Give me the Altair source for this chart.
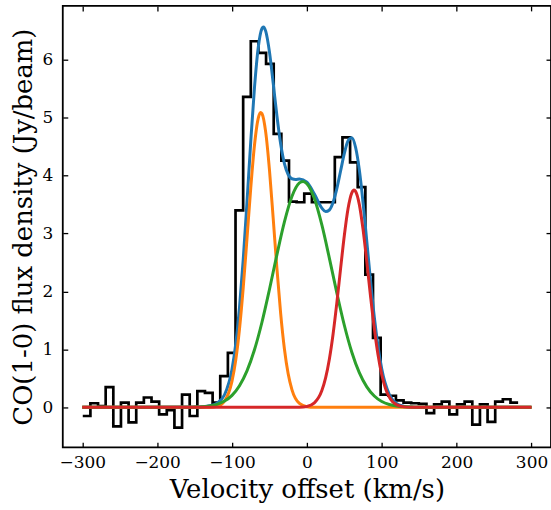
import altair as alt
import pandas as pd

# ---- data ----
# channel edges (km/s) of the observed spectrum
edges = [-299.3, -289.1, -278.9, -268.7, -258.5, -248.3, -238.1, -227.9, -217.7, -207.5,
         -197.3, -187.1, -176.9, -166.7, -156.5, -146.3, -136.1, -125.9, -115.7, -105.5,
         -95.3, -85.1, -74.9, -64.7, -54.5, -44.3, -34.1, -23.9, -13.7, -3.5,
         6.7, 16.9, 27.1, 37.3, 47.5, 57.7, 67.9, 78.1, 88.3, 98.5,
         108.7, 118.9, 129.1, 139.3, 149.5, 159.7, 169.9, 180.1, 190.3, 200.5,
         210.7, 220.9, 231.1, 241.3, 251.5, 261.7, 271.9, 282.1]
# flux density per channel (Jy/beam)
flux = [-0.15, 0.07, 0.02, 0.35, -0.33, 0.08, -0.26, 0.08, 0.17, 0.10,
        -0.12, -0.05, -0.35, 0.22, -0.15, 0.28, 0.25, 0.08, 0.54, 0.94,
        3.40, 5.36, 6.32, 6.12, 5.93, 4.72, 4.26, 3.55, 3.54, 3.69,
        3.54, 3.54, 3.54, 4.32, 4.66, 4.23, 3.80, 2.29, 1.20, 0.22,
        0.20, 0.12, 0.08, 0.07, 0.06, -0.10, 0.05, 0.10, -0.12, 0.05,
        0.10, -0.30, 0.05, -0.25, 0.10, 0.14, 0.08]

# total fit (blue)
total_v = [-300, -150, -140, -130, -120, -110, -100, -95, -90, -85, -80, -75, -70, -65, -60, -58,
           -55, -50, -45, -40, -35, -30, -25, -20, -15, -10, 0, 10, 20, 25, 30, 35, 40, 45,
           50, 55, 60, 65, 70, 75, 80, 85, 90, 100, 110, 120, 130, 140, 150, 300]
total_f = [0, 0.004, 0.010, 0.026, 0.071, 0.217, 0.659, 1.095, 1.724, 2.554, 3.540, 4.577, 5.517,
           6.207, 6.540, 6.565, 6.494, 6.136, 5.599, 5.030, 4.547, 4.209, 4.020, 3.946, 3.935,
           3.943, 3.887, 3.682, 3.439, 3.380, 3.407, 3.541, 3.777, 4.080, 4.384, 4.603, 4.655,
           4.490, 4.103, 3.535, 2.866, 2.182, 1.561, 0.663, 0.225, 0.064, 0.017, 0.004, 0, 0]

# component 1 (orange)
comp1_v = [-300, -140, -130, -120, -110, -100, -95, -90, -85, -80, -75, -70, -65, -62, -60, -55,
           -50, -45, -40, -35, -30, -25, -20, -10, 0, 10, 20, 300]
comp1_f = [0, 0, 0.002, 0.019, 0.109, 0.452, 0.815, 1.351, 2.066, 2.911, 3.780, 4.524, 4.989,
           5.090, 5.071, 4.751, 4.102, 3.264, 2.393, 1.617, 1.007, 0.578, 0.306, 0.067, 0.011,
           0.001, 0, 0]

# component 2 (green)
comp2_v = [-300, -160, -150, -140, -130, -120, -110, -100, -90, -80, -70, -60, -50, -40, -30,
           -20, -10, -5, 0, 10, 20, 30, 40, 50, 60, 70, 80, 90, 100, 110, 120, 130, 140, 150, 300]
comp2_f = [0, 0, 0.004, 0.010, 0.024, 0.052, 0.108, 0.207, 0.373, 0.629, 0.993, 1.469, 2.034,
           2.637, 3.202, 3.640, 3.874, 3.900, 3.861, 3.604, 3.149, 2.577, 1.975, 1.417, 0.952,
           0.599, 0.353, 0.195, 0.100, 0.049, 0.022, 0.009, 0.004, 0, 0]

# component 3 (red)
comp3_v = [-300, -20, -10, 0, 10, 20, 25, 30, 35, 40, 45, 50, 55, 60, 63, 65, 70, 75, 80, 85,
           90, 95, 100, 105, 110, 120, 130, 140, 300]
comp3_f = [0, 0, 0.002, 0.015, 0.077, 0.290, 0.507, 0.830, 1.266, 1.802, 2.394, 2.967, 3.432,
           3.703, 3.750, 3.729, 3.504, 3.072, 2.513, 1.918, 1.366, 0.908, 0.563, 0.326, 0.176,
           0.042, 0.008, 0, 0]

x_ticks = [-300, -200, -100, 0, 100, 200, 300]
y_ticks = [0, 1, 2, 3, 4, 5, 6]

# ---- tables ----
hist_df = pd.DataFrame({"v": edges, "f": flux + [flux[-1]]})
total_df = pd.DataFrame({"v": total_v, "f": total_f})
c1_df = pd.DataFrame({"v": comp1_v, "f": comp1_f})
c2_df = pd.DataFrame({"v": comp2_v, "f": comp2_f})
c3_df = pd.DataFrame({"v": comp3_v, "f": comp3_f})

FONT = "DejaVu Serif"
xs = alt.Scale(domain=[-326, 326], nice=False, zero=False)
ys = alt.Scale(domain=[-0.69, 6.93], nice=False, zero=False)

axis_style = dict(domain=False, grid=False, tickColor="black", tickWidth=1.3, tickSize=5,
                  offset=-5, labelColor="black", labelFont=FONT, labelFontSize=17,
                  titleFont=FONT, titleFontSize=26, titleFontWeight="normal",
                  titleColor="black")

x_bottom = alt.Axis(orient="bottom", values=x_ticks, title="Velocity offset (km/s)",
                    labelPadding=7, titlePadding=6, format="d", **axis_style)
y_left = alt.Axis(orient="left", values=y_ticks, title="CO(1-0) flux density (Jy/beam)",
                  labelPadding=10, titlePadding=6, format="d", **axis_style)
x_top = alt.Axis(orient="top", values=x_ticks, title=None, labels=False, **axis_style)
y_right = alt.Axis(orient="right", values=y_ticks, title=None, labels=False, **axis_style)

hist = alt.Chart(hist_df).mark_line(
    interpolate="step-after", color="black", strokeWidth=2.7, clip=True
).encode(
    x=alt.X("v:Q", scale=xs, axis=x_bottom),
    y=alt.Y("f:Q", scale=ys, axis=y_left),
)


def curve(df, color, xaxis=None, yaxis=None):
    return alt.Chart(df).mark_line(
        interpolate="monotone", color=color, strokeWidth=3, clip=True
    ).encode(
        x=alt.X("v:Q", scale=xs, axis=xaxis),
        y=alt.Y("f:Q", scale=ys, axis=yaxis),
    )


total = curve(total_df, "#1f77b4", x_top, y_right)
c1 = curve(c1_df, "#ff7f0e")
c2 = curve(c2_df, "#2ca02c")
c3 = curve(c3_df, "#d62728")

chart = alt.layer(hist, total, c1, c2, c3).resolve_axis(
    x="independent", y="independent"
).properties(
    width=490, height=443,
    autosize=alt.AutoSizeParams(type="none"),
    padding={"left": 63, "top": 5, "right": 0, "bottom": 62},
    background="white",
).configure_view(stroke="black", strokeWidth=1.8)

chart.save("out.html", embed_options={"renderer": "svg", "actions": False})
